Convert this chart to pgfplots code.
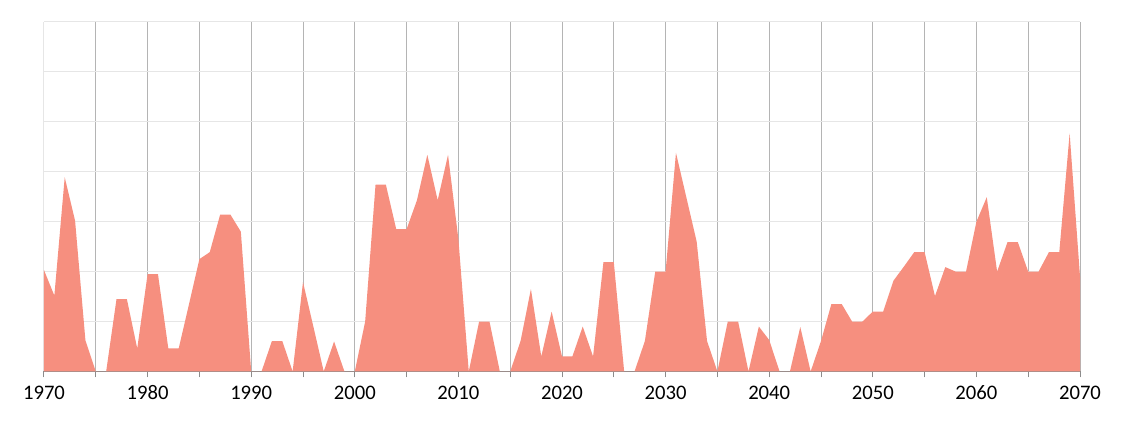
\documentclass[border=0pt]{standalone}
\usepackage{fontspec}
\setmainfont{Carlito}
\usepackage{pgfplots}
\pgfplotsset{compat=1.18}
\usepackage{pgfplotstable}

\definecolor{areafill}{HTML}{F68F7F}
\definecolor{vgrid}{HTML}{B4B4B4}
\definecolor{hgrid}{HTML}{E6E6E6}
\definecolor{axisgray}{HTML}{8C8C8C}

\pgfplotstableread{
year val
1970 2.03
1971 1.52
1972 3.89
1973 3.02
1974 0.62
1975 0
1976 0
1977 1.45
1978 1.45
1979 0.46
1980 1.95
1981 1.95
1982 0.46
1983 0.46
1984 1.35
1985 2.25
1986 2.39
1987 3.14
1988 3.14
1989 2.80
1990 0
1991 0
1992 0.61
1993 0.61
1994 0
1995 1.79
1996 0.90
1997 0
1998 0.60
1999 0
2000 0
2001 1.00
2002 3.74
2003 3.74
2004 2.85
2005 2.85
2006 3.43
2007 4.34
2008 3.43
2009 4.34
2010 2.65
2011 0
2012 1.00
2013 1.00
2014 0
2015 0
2016 0.61
2017 1.65
2018 0.30
2019 1.20
2020 0.30
2021 0.30
2022 0.90
2023 0.30
2024 2.19
2025 2.19
2026 0
2027 0
2028 0.61
2029 2.00
2030 2.00
2031 4.38
2032 3.49
2033 2.60
2034 0.61
2035 0
2036 1.00
2037 1.00
2038 0
2039 0.90
2040 0.63
2041 0
2042 0
2043 0.89
2044 0
2045 0.61
2046 1.35
2047 1.35
2048 1.00
2049 1.00
2050 1.20
2051 1.20
2052 1.82
2053 2.10
2054 2.39
2055 2.39
2056 1.51
2057 2.09
2058 2.00
2059 2.00
2060 3.00
2061 3.49
2062 2.00
2063 2.59
2064 2.59
2065 2.00
2066 2.00
2067 2.39
2068 2.39
2069 4.77
2070 1.90
}\datatable

\begin{document}
\begin{tikzpicture}
\begin{axis}[
    name=ax,
    scale only axis,
    width=777pt,
    height=262.1pt,
    xmin=1970, xmax=2070,
    ymin=0, ymax=7,
    axis x line*=bottom,
    axis y line*=left,
    x axis line style={draw=axisgray, line width=0.75pt},
    y axis line style={draw=hgrid, line width=0.75pt},
    xtick={1980,1990,...,2070},
    minor xtick={1975,1985,...,2065},
    extra x ticks={1970},
    extra x tick style={grid=none},
    xticklabel={\pgfmathprintnumber[fixed, precision=0, 1000 sep={}]{\tick}},
    ytick={1,2,...,7},
    yticklabels={},
    xmajorgrids=true,
    xminorgrids=true,
    ymajorgrids=true,
    x grid style={draw=vgrid, line width=0.75pt},
    minor x grid style={draw=vgrid, line width=0.75pt},
    y grid style={draw=hgrid, line width=0.75pt},
    tick align=outside,
    major tick length=4.5pt,
    minor tick length=4.5pt,
    x tick style={draw=axisgray, line width=0.75pt},
    minor x tick style={draw=axisgray, line width=0.75pt},
    y tick style={draw=none},
    tick label style={font=\fontsize{15.5}{18}\selectfont, text=black},
    /pgf/number format/assume math mode=true,
    xticklabel style={anchor=base, yshift=-16.7pt},
]
\addplot[fill=areafill, draw=none] table[x=year, y=val] {\datatable} \closedcycle;
\end{axis}
\path ([xshift=-33pt,yshift=-38.6pt]ax.south west) rectangle ([xshift=33pt,yshift=16.5pt]ax.north east);
\end{tikzpicture}
\end{document}
